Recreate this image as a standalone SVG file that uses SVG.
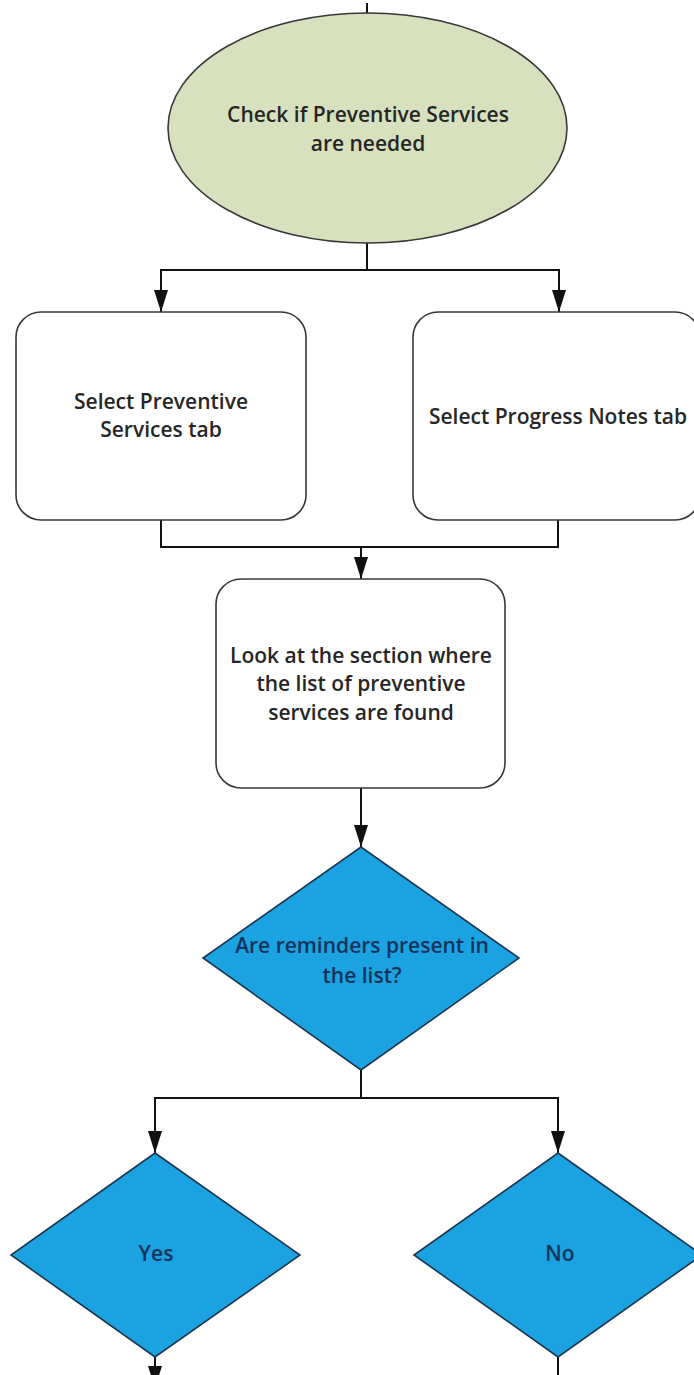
<svg xmlns="http://www.w3.org/2000/svg" width="694" height="1375" viewBox="0 0 694 1375">
<defs>
<style>
.lbl{font-family:"Open Sans","Liberation Sans",sans-serif;font-weight:600;font-size:21px;fill:#262626;text-anchor:middle}
.dlbl{font-family:"Open Sans","Liberation Sans",sans-serif;font-weight:600;font-size:21px;fill:#14335c;text-anchor:middle}
.box{fill:#ffffff;stroke:#383838;stroke-width:1.6}
.dia{fill:#1ba2e1;stroke:#1b3550;stroke-width:1.6}
.con{fill:none;stroke:#111111;stroke-width:2}
</style>
<marker id="arr" markerUnits="userSpaceOnUse" markerWidth="22" markerHeight="14" refX="22" refY="7" orient="auto">
<path d="M0,0 L22,7 L0,14 z" fill="#111111"/>
</marker>
</defs>
<rect x="0" y="0" width="694" height="1375" fill="#ffffff"/>
<g id="connectors">
<path class="con" d="M367,3 V13"/>
<path class="con" d="M367,243 V270 H161 V312" marker-end="url(#arr)"/>
<path class="con" d="M367,270 H559 V312" marker-end="url(#arr)"/>
<path class="con" d="M161,520 V547 H558 V520"/>
<path class="con" d="M361,547 V579" marker-end="url(#arr)"/>
<path class="con" d="M361,788 V847" marker-end="url(#arr)"/>
<path class="con" d="M361,1070 V1098 H155 V1153" marker-end="url(#arr)"/>
<path class="con" d="M361,1098 H558 V1153" marker-end="url(#arr)"/>
<path class="con" d="M155,1357 V1388" marker-end="url(#arr)"/>
<path class="con" d="M558,1357 V1375"/>
</g>
<g id="start">
<ellipse cx="367.5" cy="128" rx="199.5" ry="115" fill="#d8e1bd" stroke="#383838" stroke-width="1.6"/>
<text class="lbl" x="368" y="122">Check if Preventive Services</text>
<text class="lbl" x="368" y="151">are needed</text>
</g>
<g id="select-preventive">
<rect class="box" x="16" y="312" width="290" height="208" rx="25" ry="25"/>
<text class="lbl" x="161" y="409">Select Preventive</text>
<text class="lbl" x="161" y="437">Services tab</text>
</g>
<g id="select-progress">
<rect class="box" x="413" y="312" width="287" height="208" rx="25" ry="25"/>
<text class="lbl" x="558" y="424">Select Progress Notes tab</text>
</g>
<g id="look-section">
<rect class="box" x="216" y="579" width="289" height="209" rx="25" ry="25"/>
<text class="lbl" x="361" y="663">Look at the section where</text>
<text class="lbl" x="361" y="691">the list of preventive</text>
<text class="lbl" x="361" y="720">services are found</text>
</g>
<g id="reminders">
<polygon class="dia" points="361,847 519,958 361,1070 203,958"/>
<text class="dlbl" x="362" y="953">Are reminders present in</text>
<text class="dlbl" x="362" y="983">the list?</text>
</g>
<g id="yes">
<polygon class="dia" points="155,1153 300,1255 155,1357 11,1255"/>
<text class="dlbl" x="156" y="1261">Yes</text>
</g>
<g id="no">
<polygon class="dia" points="558,1153 702,1255 558,1357 414,1255"/>
<text class="dlbl" x="560" y="1261">No</text>
</g>
</svg>
